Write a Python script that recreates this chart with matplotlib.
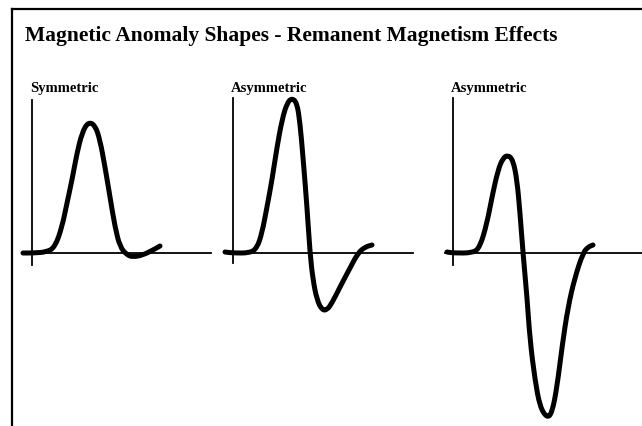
import matplotlib
matplotlib.use("Agg")
import matplotlib.pyplot as plt
from matplotlib.lines import Line2D
from matplotlib.path import Path
from matplotlib.patches import PathPatch

# ---- data (relative to each panel's origin; x = distance, y = anomaly) ----
title = "Magnetic Anomaly Shapes - Remanent Magnetism Effects"
panel_labels = ["Symmetric", "Asymmetric", "Asymmetric"]

sym_x = [-9, 1, 15, 23, 30, 35, 40, 45, 50, 56, 63, 68, 73, 78, 83, 88, 95, 101, 111, 121, 128]
sym_y = [0, 0, 1, 6, 26, 50, 73, 100, 120, 131, 128, 113, 86, 56, 26, 6, -2, -4, -2, 3, 7]

asym1_x = [-8, 0, 17, 24, 29, 34, 39, 44, 49, 54, 59, 64, 67, 70, 74, 77, 80, 84, 89, 94, 99, 107, 117, 125, 132, 139]
asym1_y = [1, 0, 0, 5, 20, 46, 73, 106, 133, 150, 155, 150, 130, 96, 46, 0, -27, -47, -57, -57, -50, -34, -15, 0, 6, 8]

asym2_x = [-6, 0, 20, 27, 34, 39, 45, 50, 55, 60, 64, 67, 70, 74, 77, 82, 87, 94, 99, 104, 109, 115, 122, 130, 135, 140]
asym2_y = [1, 0, 0, 6, 30, 56, 83, 95, 98, 93, 73, 40, 0, -44, -87, -127, -154, -165, -160, -134, -94, -54, -24, 0, 6, 8]

curves = [(sym_x, sym_y), (asym1_x, asym1_y), (asym2_x, asym2_y)]

# ---- layout (pixels) ----
W, H = 642, 426
origins = [(32, 253), (233, 253), (453, 253)]
yaxis_bounds = [(-12, 153), (-10, 155), (-12, 155)]
xaxis_bounds = [(-10, 179), (-8, 180), (-8, 189)]
XL, XR, YB, YT = -20, 190, -172, 160


def smooth_path(xs, ys):
    """Quadratic B-spline path using the read points as control points."""
    pts = list(zip(xs, ys))
    mid = lambda a, b: ((a[0] + b[0]) / 2, (a[1] + b[1]) / 2)
    verts = [pts[0], mid(pts[0], pts[1])]
    codes = [Path.MOVETO, Path.LINETO]
    for i in range(1, len(pts) - 1):
        verts += [pts[i], mid(pts[i], pts[i + 1])]
        codes += [Path.CURVE3, Path.CURVE3]
    verts.append(pts[-1])
    codes.append(Path.LINETO)
    return Path(verts, codes)


fig = plt.figure(figsize=(W / 100, H / 100), dpi=100)
fig.patch.set_facecolor("white")
serif = ["Liberation Serif", "DejaVu Serif"]

for i, ((ox, oy), (cx, cy)) in enumerate(zip(origins, curves)):
    left = (ox + XL) / W
    bottom = (H - (oy - YB)) / H
    ax = fig.add_axes([left, bottom, (XR - XL) / W, (YT - YB) / H])
    ax.set_xlim(XL, XR)
    ax.set_ylim(YB, YT)
    ax.patch.set_alpha(0)
    for s in ["top", "right"]:
        ax.spines[s].set_visible(False)
    ax.spines["left"].set_position(("data", 0))
    ax.spines["bottom"].set_position(("data", 0))
    ax.spines["left"].set_bounds(*yaxis_bounds[i])
    ax.spines["bottom"].set_bounds(*xaxis_bounds[i])
    for s in ["left", "bottom"]:
        ax.spines[s].set_linewidth(1.3)
        ax.spines[s].set_color("black")
    ax.set_xticks([])
    ax.set_yticks([])
    patch = PathPatch(smooth_path(cx, cy), facecolor="none", edgecolor="black",
                      lw=3.6, joinstyle="round", capstyle="round", clip_on=False)
    ax.add_patch(patch)
    ax.text(-2, 164, panel_labels[i], fontsize=10.5, fontweight="bold",
            family=serif, ha="left", va="center", clip_on=False)

fig.text(25 / W, 1 - 41 / H, title, fontsize=15.5, fontweight="bold",
         family=serif, ha="left", va="baseline")

# frame
fig.add_artist(Line2D([12 / W, 12 / W], [0, 1 - 9 / H], color="black",
                      lw=1.6, transform=fig.transFigure))
fig.add_artist(Line2D([12 / W, 1], [1 - 9 / H, 1 - 9 / H], color="black",
                      lw=1.6, transform=fig.transFigure))

fig.savefig("out.png", dpi=100)
